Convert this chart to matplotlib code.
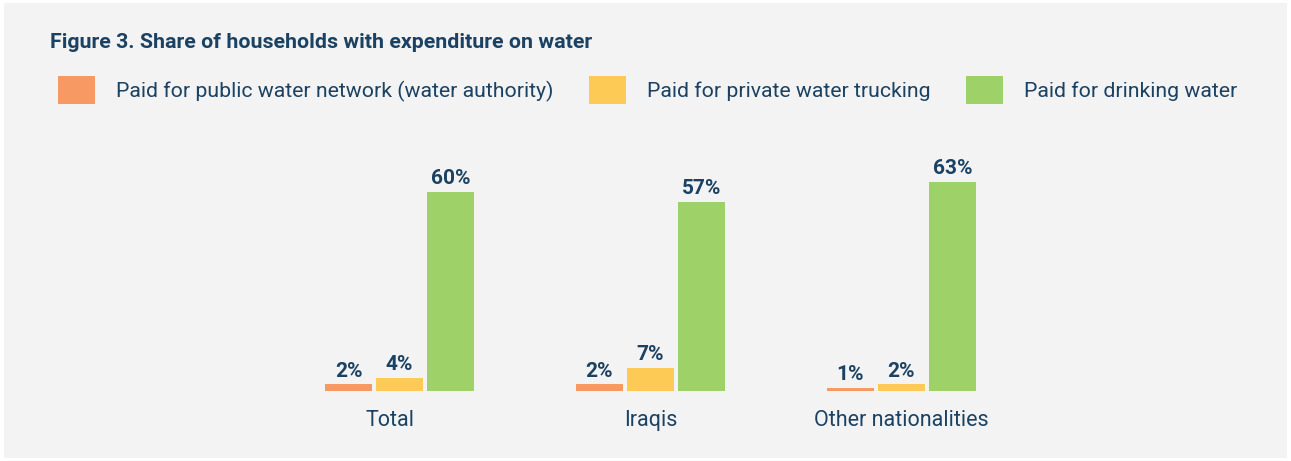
import matplotlib
matplotlib.use("Agg")
import matplotlib.pyplot as plt
from matplotlib.patches import Rectangle, Patch
from matplotlib.transforms import ScaledTranslation
import numpy as np

plt.rcParams["font.family"] = ["Roboto", "DejaVu Sans"]

# Données du graphique
categories = ["Total", "Iraqis", "Other nationalities"]
series_names = [
    "Paid for public water network (water authority)",
    "Paid for private water trucking",
    "Paid for drinking water",
]
public_network = [2, 2, 1]
private_trucking = [4, 7, 2]
drinking_water = [60, 57, 63]

colors = ["#f79963", "#fdca55", "#9fd169"]
text_color = "#1b4262"

W, H = 1291, 461
fig = plt.figure(figsize=(W / 100, H / 100), dpi=100, facecolor="white")

# Fond gris du panneau
fig.patches.append(
    Rectangle((4 / W, 3 / H), (W - 8) / W, (H - 6) / H,
              transform=fig.transFigure, facecolor="#f3f3f3",
              edgecolor="none", zorder=-1)
)

# Axe principal (coordonnées en pixels)
base_px = 391
top_px = 150
ax = fig.add_axes([0, 1 - base_px / H, 1, (base_px - top_px) / H])
ax.set_zorder(1)
ax.set_facecolor("none")
px_per_unit = 251
ax.set_xlim(-399.5 / px_per_unit, (W - 399.5) / px_per_unit)
ax.set_ylim(0, (base_px - top_px) / 3.32)

x = np.arange(len(categories))
width = 47 / px_per_unit
step = 51 / px_per_unit
values = [public_network, private_trucking, drinking_water]

for i, (vals, col, name) in enumerate(zip(values, colors, series_names)):
    bars = ax.bar(x + (i - 1) * step, vals, width=width, color=col, label=name)
    for b, v in zip(bars, vals):
        ax.annotate(f"{v}%", (b.get_x() + b.get_width() / 2, v),
                    xytext=(0, 5.3), textcoords="offset points",
                    ha="center", va="baseline", fontsize=15,
                    fontweight="bold", color=text_color)

ax.set_xticks(x)
ax.set_xticklabels(categories, fontsize=15.5, color=text_color)
ax.tick_params(axis="x", length=0, pad=14)
# "Total" est légèrement décalé vers la gauche dans l'original
lbl = ax.get_xticklabels()[0]
lbl.set_transform(lbl.get_transform() + ScaledTranslation(-0.1, 0, fig.dpi_scale_trans))
ax.set_yticks([])
for s in ax.spines.values():
    s.set_visible(False)

# Titre
fig.text(50 / W, 1 - 48 / H, "Figure 3. Share of households with expenditure on water",
         fontsize=15.4, fontweight="bold", color=text_color, va="baseline", ha="left")

# Légende
fs_leg = 15.3
handles = [Patch(facecolor=c, edgecolor="none") for c in colors]
fig.legend(handles, series_names, loc="center left",
           bbox_to_anchor=(58 / W, 1 - 90 / H), ncol=3, frameon=False,
           fontsize=fs_leg, labelcolor=text_color,
           handlelength=1.74, handleheight=1.69, handletextpad=1.0,
           columnspacing=1.65, borderaxespad=0, borderpad=0)

fig.savefig("out.png", dpi=100, facecolor=fig.get_facecolor())
